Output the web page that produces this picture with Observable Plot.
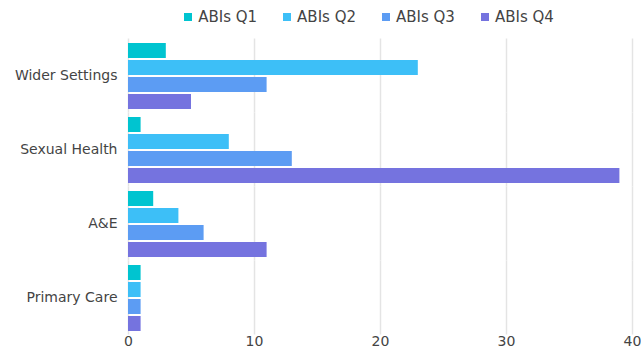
<!DOCTYPE html>
<html>
<head>
<meta charset="utf-8">
<script src="https://cdn.jsdelivr.net/npm/d3@7"></script>
<script src="https://cdn.jsdelivr.net/npm/@observablehq/plot@0.6"></script>
<style>
  body { margin: 0; background: #fff; font-family: "DejaVu Sans", sans-serif; }
  #chart { width: 641px; }
  .legend { height: 34px; display: flex; align-items: center; justify-content: center;
            box-sizing: border-box; padding-left: 128px; padding-right: 31px;
            font-size: 15px; color: #444; gap: 26px; }
  .legend span { display: inline-flex; align-items: center; }
  .legend i { width: 8px; height: 8px; display: inline-block; margin-right: 6px; }
</style>
</head>
<body>
<div id="chart"></div>
<script>
// Settings, top to bottom
const categories = ["Wider Settings", "Sexual Health", "A&E", "Primary Care"];
// Quarterly series
const series = ["ABIs Q1", "ABIs Q2", "ABIs Q3", "ABIs Q4"];
const colors = ["#00c4d0", "#3dbff7", "#5c9cf3", "#7573df"];
// Values per series, in category order
const q1 = [3, 1, 2, 1];
const q2 = [23, 8, 4, 1];
const q3 = [11, 13, 6, 1];
const q4 = [5, 39, 11, 1];
const xTicks = [0, 10, 20, 30, 40];

const seriesValues = [q1, q2, q3, q4];
const rows = [];
categories.forEach((c, i) => {
  series.forEach((s, j) => rows.push({category: c, series: s, value: seriesValues[j][i]}));
});

const chart = document.getElementById("chart");

// Legend
const legend = document.createElement("div");
legend.className = "legend";
series.forEach((s, j) => {
  const item = document.createElement("span");
  const sw = document.createElement("i");
  sw.style.background = colors[j];
  item.appendChild(sw);
  item.appendChild(document.createTextNode(s));
  legend.appendChild(item);
});
chart.appendChild(legend);

const plot = Plot.plot({
  width: 641,
  height: 322,
  marginTop: 7,
  marginBottom: 24,
  marginLeft: 128,
  marginRight: 9,
  style: {fontSize: "14px", fontFamily: "DejaVu Sans, sans-serif", color: "#444", background: "#fff"},
  facet: {data: rows, y: "category"},
  fy: {domain: categories, label: null, axis: "left", tickSize: 0, tickPadding: 11, paddingInner: 0.1, paddingOuter: 0},
  y: {domain: series, axis: null, paddingInner: 0.12, paddingOuter: 0},
  x: {domain: [0, 40], ticks: xTicks, tickSize: 0, tickPadding: 5, label: null},
  color: {domain: series, range: colors},
  marks: [
    Plot.ruleX(xTicks, {stroke: "#e4e4e4", strokeWidth: 1.5, insetTop: -3.5, insetBottom: -3.5}),
    Plot.barX(rows, {x: "value", y: "series", fill: "series"})
  ]
});
chart.appendChild(plot);
</script>
</body>
</html>
